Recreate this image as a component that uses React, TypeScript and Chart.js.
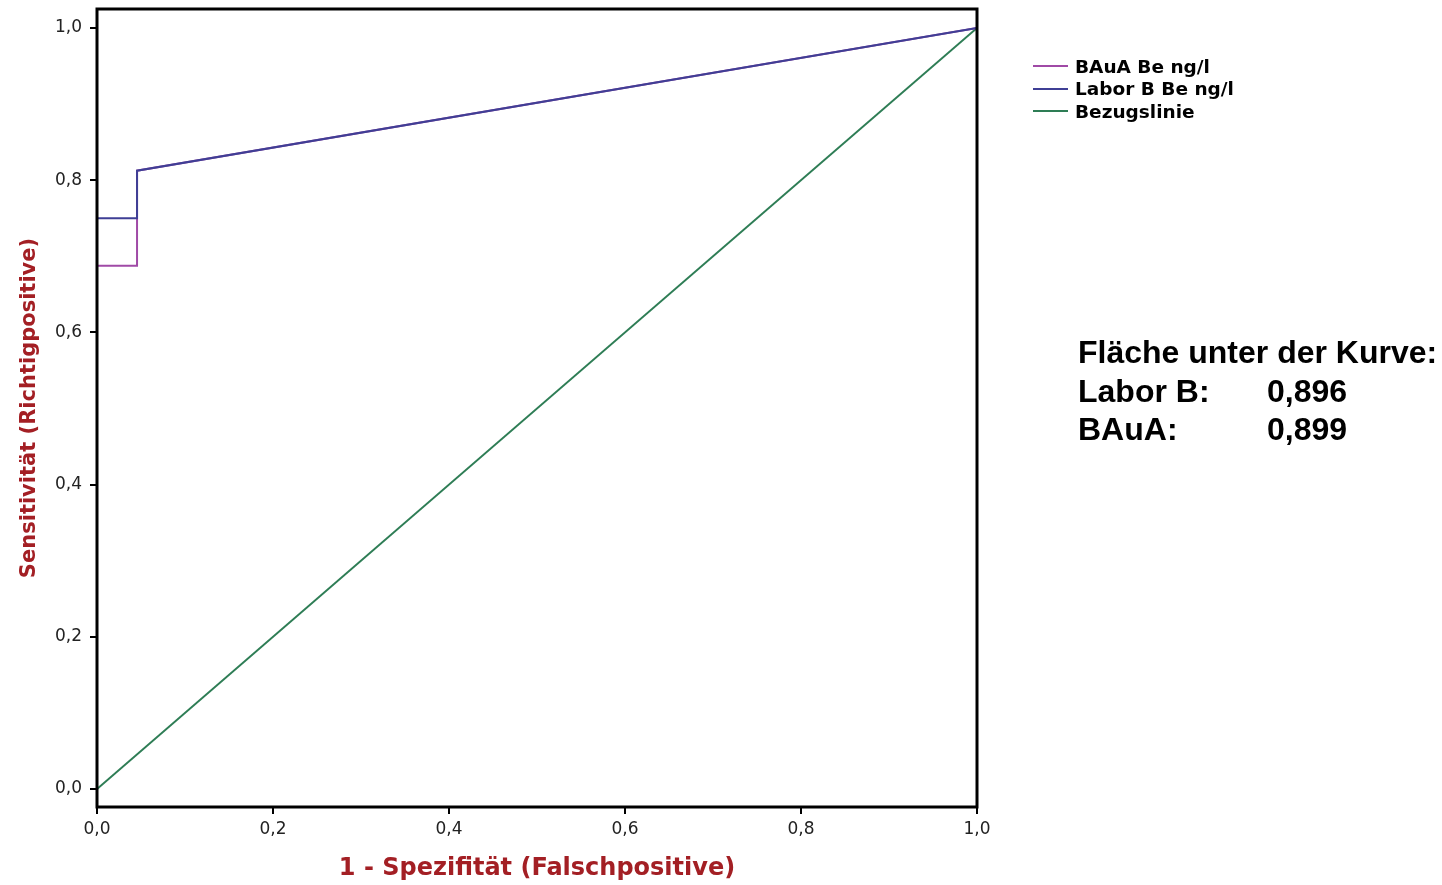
import React, { useEffect, useRef } from "react";
import { Chart, registerables } from "chart.js";

Chart.register(...registerables);

// ROC data (1 - specificity, sensitivity)
const bauaFpr = [0, 0, 0.0455, 0.0455, 1];
const bauaTpr = [0, 0.6875, 0.6875, 0.8125, 1];
const laborFpr = [0, 0, 0.0455, 0.0455, 1];
const laborTpr = [0, 0.75, 0.75, 0.8125, 1];
const refFpr = [0, 1];
const refTpr = [0, 1];

const seriesNames = ["BAuA Be ng/l", "Labor B Be ng/l", "Bezugslinie"];
const seriesColors = ["#a04aa6", "#3f3f95", "#2e7d55"];

const tickValues = [0, 0.2, 0.4, 0.6, 0.8, 1.0];
const tickLabels = ["0,0", "0,2", "0,4", "0,6", "0,8", "1,0"];

const xTitle = "1 - Spezifität (Falschpositive)";
const yTitle = "Sensitivität (Richtigpositive)";

const aucHeader = "Fläche unter der Kurve:";
const aucNames = ["Labor B:", "BAuA:"];
const aucValues = ["0,896", "0,899"];

const toPoints = (xs: number[], ys: number[]) => xs.map((x, i) => ({ x, y: ys[i] }));

const framePlugin = {
  id: "frame",
  afterDatasetsDraw(chart: any) {
    const { ctx, chartArea } = chart;
    ctx.save();
    ctx.strokeStyle = "#000";
    ctx.lineWidth = 3;
    ctx.strokeRect(chartArea.left, chartArea.top, chartArea.right - chartArea.left, chartArea.bottom - chartArea.top);
    ctx.restore();
  },
};

export default function App() {
  const ref = useRef<HTMLCanvasElement | null>(null);

  useEffect(() => {
    if (!ref.current) return;
    const tickFont = { family: "DejaVu Sans", size: 17 };
    const chart = new Chart(ref.current, {
      type: "line",
      data: {
        // Chart.js paints the first dataset on top
        datasets: [
          {
            label: seriesNames[1],
            data: toPoints(laborFpr, laborTpr),
            borderColor: seriesColors[1],
            borderWidth: 2,
            pointRadius: 0,
            tension: 0,
          },
          {
            label: seriesNames[0],
            data: toPoints(bauaFpr, bauaTpr),
            borderColor: seriesColors[0],
            borderWidth: 2,
            pointRadius: 0,
            tension: 0,
          },
          {
            label: seriesNames[2],
            data: toPoints(refFpr, refTpr),
            borderColor: seriesColors[2],
            borderWidth: 2,
            pointRadius: 0,
            tension: 0,
          },
        ],
      },
      options: {
        animation: false,
        responsive: false,
        layout: { padding: { top: 9, right: 465, left: 0, bottom: 0 } },
        plugins: { legend: { display: false }, tooltip: { enabled: false } },
        scales: {
          x: {
            type: "linear",
            min: 0,
            max: 1,
            afterFit: (s: any) => {
              s.height = 78;
              s.paddingLeft = 0;
              s.paddingRight = 0;
            },
            afterBuildTicks: (s: any) => {
              s.ticks = tickValues.map((v) => ({ value: v }));
            },
            ticks: {
              font: tickFont,
              color: "#222",
              padding: 5,
              maxRotation: 0,
              callback: (_v: any, i: number) => tickLabels[i],
            },
            grid: { drawOnChartArea: false, drawTicks: true, tickLength: 7, color: "#000", lineWidth: 2 },
            border: { display: false },
            title: {
              display: true,
              text: xTitle,
              color: "#a31f24",
              font: { family: "DejaVu Sans", size: 24, weight: "bold" },
              padding: { top: 0, bottom: 2 },
            },
          },
          y: {
            type: "linear",
            min: -0.0237,
            max: 1.025,
            afterFit: (s: any) => {
              s.width = 97;
              s.paddingTop = 0;
              s.paddingBottom = 0;
            },
            afterBuildTicks: (s: any) => {
              s.ticks = tickValues.map((v) => ({ value: v }));
            },
            ticks: {
              font: tickFont,
              color: "#222",
              padding: 8,
              callback: (_v: any, i: number) => tickLabels[i],
            },
            grid: { drawOnChartArea: false, drawTicks: true, tickLength: 7, color: "#000", lineWidth: 2 },
            border: { display: false },
            title: {
              display: true,
              text: yTitle,
              color: "#a31f24",
              font: { family: "DejaVu Sans", size: 21, weight: "bold" },
              padding: { top: 17, bottom: 0 },
            },
          },
        },
      },
      plugins: [framePlugin],
    });
    return () => chart.destroy();
  }, []);

  const legendOrder = [0, 1, 2];
  const aucFont = { fontFamily: "'Liberation Sans', Arial, sans-serif", fontWeight: 700, fontSize: 32, color: "#000" };

  return (
    <div style={{ position: "fixed", left: 0, top: 0, width: 1442, height: 885, background: "#fff" }}>
      <canvas ref={ref} width={1442} height={885} style={{ display: "block", width: 1442, height: 885 }} />
      {legendOrder.map((idx, i) => (
        <div
          key={idx}
          style={{
            position: "absolute",
            left: 1033,
            top: 55 + i * 22.7,
            height: 22,
            display: "flex",
            alignItems: "center",
            fontFamily: "'DejaVu Sans', sans-serif",
            fontWeight: 700,
            fontSize: 18.5,
            color: "#000",
            whiteSpace: "nowrap",
          }}
        >
          <span style={{ display: "inline-block", width: 35, height: 2, background: seriesColors[idx], marginRight: 7 }} />
          <span>{seriesNames[idx]}</span>
        </div>
      ))}
      <div style={{ position: "absolute", left: 1078, top: 333, whiteSpace: "nowrap", lineHeight: "38.5px", ...aucFont }}>
        <div>{aucHeader}</div>
        {aucNames.map((n, i) => (
          <div key={n} style={{ position: "relative" }}>
            <span>{n}</span>
            <span style={{ position: "absolute", left: 189 }}>{aucValues[i]}</span>
          </div>
        ))}
      </div>
    </div>
  );
}
